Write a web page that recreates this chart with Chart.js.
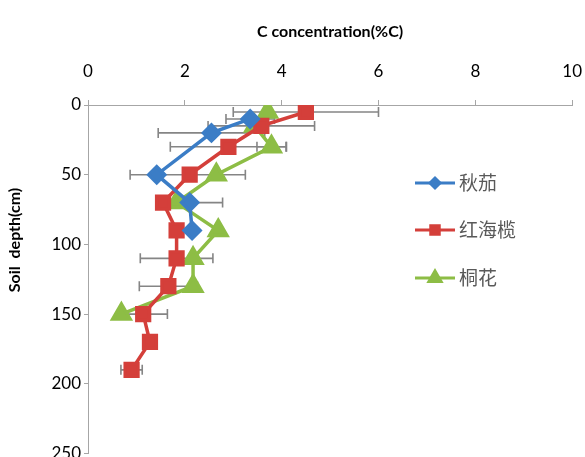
<!DOCTYPE html>
<html>
<head>
<meta charset="utf-8">
<script src="https://cdn.jsdelivr.net/npm/chart.js@4/dist/chart.umd.min.js"></script>
<style>
  html, body { margin: 0; background: #fff; overflow: hidden; }
  canvas { display: block; }
</style>
</head>
<body>
<!-- canvas um pouco maior que a janela: o "250" fica cortado como no original -->
<canvas id="grafico" width="600" height="467"></canvas>
<script>
  // dados: profundidade (cm), concentracao (%C) e erro (+/-)
  const nomes = ["秋茄", "红海榄", "桐花"];

  const profQiuqie = [10, 20, 50, 70, 90];
  const valQiuqie = [3.35, 2.55, 1.42, 2.1, 2.15];
  const erroQiuqie = [0.5, 1.1, 0.55, 0.68, null];

  const profHonghailan = [5, 15, 30, 50, 70, 90, 110, 130, 150, 170, 190];
  const valHonghailan = [4.5, 3.58, 2.9, 2.1, 1.55, 1.83, 1.83, 1.66, 1.14, 1.28, 0.9];
  const erroHonghailan = [1.5, 1.1, 1.2, null, null, null, 0.75, 0.6, 0.5, null, 0.22];

  const profTonghua = [5, 15, 30, 50, 70, 90, 110, 130, 150];
  const valTonghua = [3.71, 3.44, 3.79, 2.65, 1.83, 2.69, 2.17, 2.17, 0.69];
  const erroTonghua = [null, null, 0.3, 0.6, null, null, null, null, null];

  const xTicks = [0, 2, 4, 6, 8, 10];
  const yTicks = [0, 50, 100, 150, 200, 250];

  const cores = ["#3b7dc6", "#d43f3a", "#8dbd45"];
  const marcadores = ["rectRot", "rect", "triangle"];
  const raios = [8, 9, 10];

  function pontos(prof, val) {
    return prof.map((p, i) => ({ x: val[i], y: p }));
  }

  const series = [
    { prof: profQiuqie, val: valQiuqie, erro: erroQiuqie },
    { prof: profHonghailan, val: valHonghailan, erro: erroHonghailan },
    { prof: profTonghua, val: valTonghua, erro: erroTonghua }
  ];

  // barras de erro horizontais
  const barrasErro = {
    id: "barrasErro",
    beforeDatasetsDraw(chart) {
      const { ctx, scales } = chart;
      ctx.save();
      ctx.strokeStyle = "#858585";
      ctx.lineWidth = 1.6;
      series.forEach(s => {
        s.prof.forEach((p, i) => {
          const e = s.erro[i];
          if (e == null) return;
          const y = scales.y.getPixelForValue(p);
          const x1 = scales.x.getPixelForValue(s.val[i] - e);
          const x2 = scales.x.getPixelForValue(s.val[i] + e);
          ctx.beginPath();
          ctx.moveTo(x1, y); ctx.lineTo(x2, y);
          ctx.moveTo(x1, y - 5); ctx.lineTo(x1, y + 5);
          ctx.moveTo(x2, y - 5); ctx.lineTo(x2, y + 5);
          ctx.stroke();
        });
      });
      ctx.restore();
    }
  };

  // legenda e titulo do eixo y desenhados a mao
  const extras = {
    id: "extras",
    afterDraw(chart) {
      const { ctx } = chart;
      ctx.save();
      ctx.font = "bold 16px Lato, 'Open Sans', sans-serif";
      ctx.fillStyle = "#000";
      ctx.textAlign = "center";
      ctx.textBaseline = "middle";
      ctx.translate(15, 240);
      ctx.rotate(-Math.PI / 2);
      ctx.fillText("Soil  depth(cm)", 0, 0);
      ctx.restore();

      ctx.save();
      const legX = 415, legY = [183, 230, 278];
      chart.data.datasets.forEach((ds, i) => {
        const y = legY[i];
        ctx.strokeStyle = ds.borderColor;
        ctx.lineWidth = 3;
        ctx.beginPath();
        ctx.moveTo(legX, y); ctx.lineTo(legX + 40, y);
        ctx.stroke();
        ctx.fillStyle = ds.backgroundColor;
        Chart.helpers.drawPoint(ctx, {
          pointStyle: ds.pointStyle, radius: ds.pointRadius - 3, borderWidth: 1
        }, legX + 20, y);
        ctx.fillStyle = "#595959";
        ctx.font = "19px 'Noto Sans CJK SC', sans-serif";
        ctx.textAlign = "left";
        ctx.textBaseline = "middle";
        ctx.fillText(ds.label, legX + 44, y);
      });
      ctx.restore();
    }
  };

  new Chart(document.getElementById("grafico").getContext("2d"), {
    type: "scatter",
    data: {
      datasets: series.map((s, i) => ({
        label: nomes[i],
        data: pontos(s.prof, s.val),
        showLine: true,
        borderColor: cores[i],
        backgroundColor: cores[i],
        borderWidth: 3.5,
        pointStyle: marcadores[i],
        pointRadius: raios[i],
        pointHoverRadius: raios[i]
      }))
    },
    options: {
      responsive: false,
      animation: false,
      layout: { padding: { left: 0, right: 0, top: 0, bottom: 0 } },
      plugins: {
        legend: { display: false },
        tooltip: { enabled: false }
      },
      scales: {
        x: {
          type: "linear",
          position: "top",
          min: 0,
          max: 10,
          afterBuildTicks: s => { s.ticks = xTicks.map(v => ({ value: v })); },
          grid: { drawOnChartArea: false, drawTicks: true, tickLength: 5, color: "#a6a6a6" },
          border: { color: "#a6a6a6", width: 1 },
          ticks: { color: "#000", padding: 18, font: { family: "Lato, 'Open Sans', sans-serif", size: 17 } },
          title: {
            display: true,
            text: "C concentration(%C)",
            color: "#000",
            font: { family: "Lato, 'Open Sans', sans-serif", size: 16, weight: "bold" },
            padding: { top: 22, bottom: 0 }
          },
          afterFit: s => { s.height = 105; }
        },
        y: {
          type: "linear",
          reverse: true,
          min: 0,
          max: 250,
          afterBuildTicks: s => { s.ticks = yTicks.map(v => ({ value: v })); },
          grid: { drawOnChartArea: false, drawTicks: true, tickLength: 4, color: "#a6a6a6" },
          border: { color: "#a6a6a6", width: 1 },
          ticks: { color: "#000", padding: 3, font: { family: "Lato, 'Open Sans', sans-serif", size: 17 } },
          afterFit: s => { s.width = 88; }
        }
      }
    },
    plugins: [barrasErro, extras]
  });
</script>
</body>
</html>
